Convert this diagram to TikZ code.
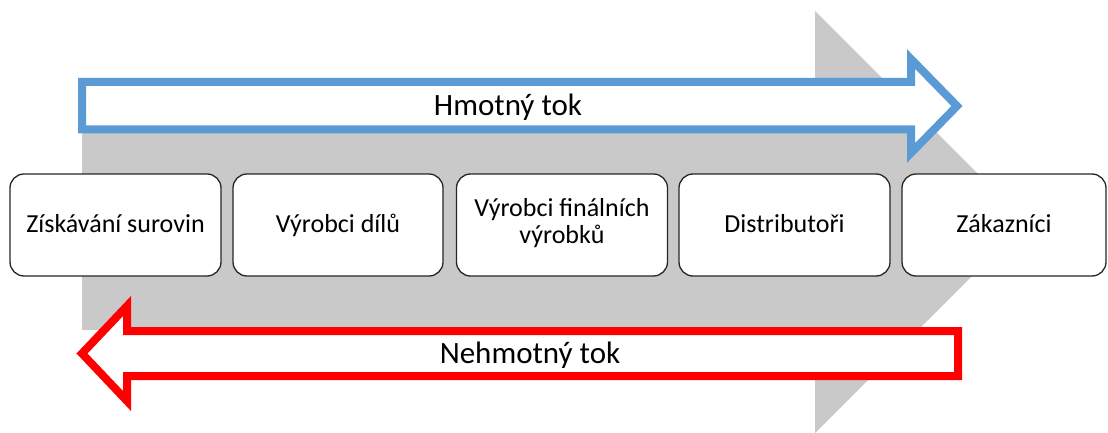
\documentclass[tikz,border=0pt]{standalone}
\usepackage{fontspec}
\setmainfont{Carlito}
\definecolor{flowblue}{HTML}{5B9BD5}
\definecolor{flowred}{HTML}{FF0000}
\definecolor{bggray}{HTML}{C9C9C9}
\tikzset{
  stage/.style={draw=black!85, line width=1.3pt, fill=white, rounded corners=14pt,
    minimum width=#1, minimum height=102pt, inner sep=0pt, align=center,
    text height=20pt, text depth=6pt,
    font=\fontsize{26}{27}\selectfont},
  flowlabel/.style={font=\fontsize{31}{33}\selectfont, inner sep=0pt, anchor=base},
}
\begin{document}
\begin{tikzpicture}[x=1pt,y=-1pt]
\useasboundingbox (0,0) rectangle (1108,433);
% big gray arrow
\fill[bggray] (82,114) -- (815,114) -- (815,11) -- (1026,222) -- (815,433) -- (815,330) -- (82,330) -- cycle;
% blue arrow (material flow)
\draw[flowblue, line width=8pt, fill=white, miter limit=20]
  (82,82) -- (911,82) -- (911,59) -- (957,106) -- (911,153) -- (911,129.5) -- (82,129.5) -- cycle;
\node[flowlabel] (hm) at (508,116) {Hmotný tok};
% red arrow (information flow)
\draw[flowred, line width=8pt, fill=white, miter limit=20]
  (958,331) -- (127,331) -- (127,306) -- (82,353.5) -- (127,401) -- (127,376) -- (958,376) -- cycle;
\node[flowlabel] (nh) at (530,363) {Nehmotný tok};
% stages
\node[stage=211pt] (s1) at (115.5,225) {Získávání surovin};
\node[stage=210pt] (s2) at (338,225) {Výrobci dílů};
\node[stage=211pt, text height=42pt] (s3) at (562,225) {Výrobci finálních\\výrobků};
\node[stage=211pt] (s4) at (784.5,225) {Distributoři};
\node[stage=204pt] (s5) at (1004,225) {Zákazníci};
\end{tikzpicture}
\end{document}
